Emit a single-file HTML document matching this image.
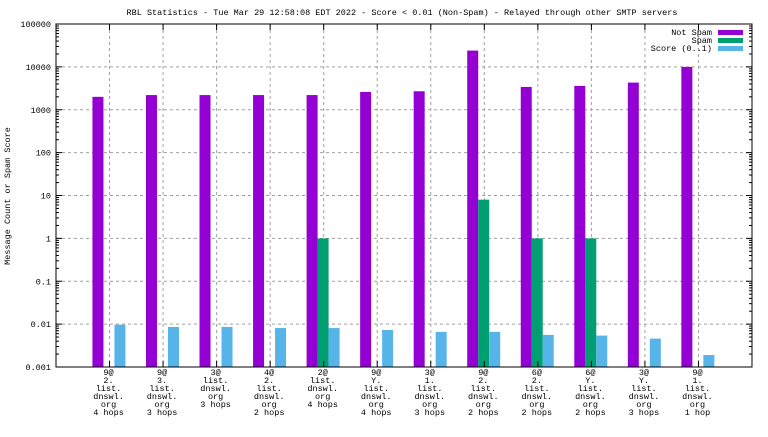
<!DOCTYPE html>
<html><head><meta charset="utf-8"><style>
body{margin:0;background:#fff}
svg text{font-family:"Liberation Mono",monospace;font-size:8.5px;fill:#000}
</style></head><body>
<svg id="chart" width="768" height="432" xmlns="http://www.w3.org/2000/svg">
<text x="402" y="15" text-anchor="middle">RBL Statistics - Tue Mar 29 12:58:08 EDT 2022 - Score &lt; 0.01 (Non-Spam) - Relayed through other SMTP servers</text>
<text transform="translate(10,196) rotate(-90)" text-anchor="middle">Message Count or Spam Score</text>
<g id="grid"></g><g id="bars"></g><g id="axes"></g>
<g>
<text x="712" y="35" text-anchor="end">Not Spam</text><rect x="718" y="30" width="25" height="5" fill="#9400d3"/>
<text x="712" y="43" text-anchor="end">Spam</text><rect x="718" y="38" width="25" height="5" fill="#009e73"/>
<text x="712" y="51" text-anchor="end">Score (0..1)</text><rect x="718" y="46" width="25" height="5" fill="#56b4e9"/>
</g>
</svg>
<script>
const categories=[["9@","2.","list.","dnswl.","org","4 hops"],["9@","3.","list.","dnswl.","org","3 hops"],["3@","list.","dnswl.","org","3 hops"],["4@","2.","list.","dnswl.","org","2 hops"],["2@","list.","dnswl.","org","4 hops"],["9@","Y.","list.","dnswl.","org","4 hops"],["3@","1.","list.","dnswl.","org","3 hops"],["9@","2.","list.","dnswl.","org","2 hops"],["6@","2.","list.","dnswl.","org","2 hops"],["6@","Y.","list.","dnswl.","org","2 hops"],["3@","Y.","list.","dnswl.","org","3 hops"],["9@","1.","list.","dnswl.","org","1 hop"]];
const notSpam=[2000,2200,2200,2200,2200,2600,2700,24000,3400,3600,4300,10000];
const spam=[0,0,0,0,1,0,0,8,1,1,0,0];
const score=[0.0097,0.0086,0.0086,0.0081,0.0081,0.0073,0.0066,0.0066,0.0056,0.0054,0.0046,0.0019];
const yTicks=[0.001,0.01,0.1,1,10,100,1000,10000,100000];
const yTickLabels=["0.001","0.01","0.1","1","10","100","1000","10000","100000"];
const L=56,R=752,T=24,B=367;
const ns="http://www.w3.org/2000/svg";
function y(v){return B-(Math.log10(v)+3)/8*(B-T);}
function x(i){return L+(i+1)*(R-L)/13;}
function mk(tag,a,p){const e=document.createElementNS(ns,tag);for(const k in a)e.setAttribute(k,a[k]);document.getElementById(p).appendChild(e);return e;}
yTicks.forEach((v,i)=>{
 if(i>0&&i<yTicks.length-1){const g=mk('line',{x1:L,x2:R,y1:y(v),y2:y(v),stroke:'#a0a0a0','stroke-dasharray':'3,3'},'grid');
 
 }
 const t=mk('text',{x:L-5,y:y(v)+3,'text-anchor':'end'},'axes');t.textContent=yTickLabels[i];
 
 
 mk('line',{x1:L,x2:L+6,y1:y(v),y2:y(v),stroke:'#000'},'axes');
 mk('line',{x1:R,x2:R-6,y1:y(v),y2:y(v),stroke:'#000'},'axes');
 if(i<yTicks.length-1)for(let m=2;m<10;m++){const yy=y(v*m);
  mk('line',{x1:L,x2:L+3,y1:yy,y2:yy,stroke:'#000'},'axes');mk('line',{x1:R,x2:R-3,y1:yy,y2:yy,stroke:'#000'},'axes');}
});
categories.forEach((c,i)=>{
 const cx=x(i);
 const g=mk('line',{x1:cx,x2:cx,y1:T,y2:B,stroke:'#a0a0a0','stroke-dasharray':'3,3'},'grid');
 
 
 mk('line',{x1:cx,x2:cx,y1:B,y2:B-6,stroke:'#000'},'axes');
 mk('line',{x1:cx,x2:cx,y1:T,y2:T+6,stroke:'#000'},'axes');
 const t=mk('text',{x:cx-1,y:B+8,'text-anchor':'middle'},'axes');
 
 
 c.forEach((s,j)=>{const ts=document.createElementNS(ns,'tspan');ts.setAttribute('x',cx-1);ts.setAttribute('dy',j?8:0);ts.textContent=s;t.appendChild(ts);});
 const w=11,base=cx-0.6;
 [[notSpam[i],'#9400d3',-w*1.5,'bar-not-spam'],[spam[i],'#009e73',-w*0.5,'bar-spam'],[score[i],'#56b4e9',w*0.5,'bar-score']].forEach(d=>{
  if(d[0]>0){const yy=Math.max(y(d[0]),T);const r=mk('rect',{x:base+d[2],y:yy,width:w,height:B-yy,fill:d[1]},'bars');
  
  }
 });
});
const f=mk('rect',{x:L,y:T,width:R-L,height:B-T,fill:'none',stroke:'#000'},'axes');


</script>
</body></html>
